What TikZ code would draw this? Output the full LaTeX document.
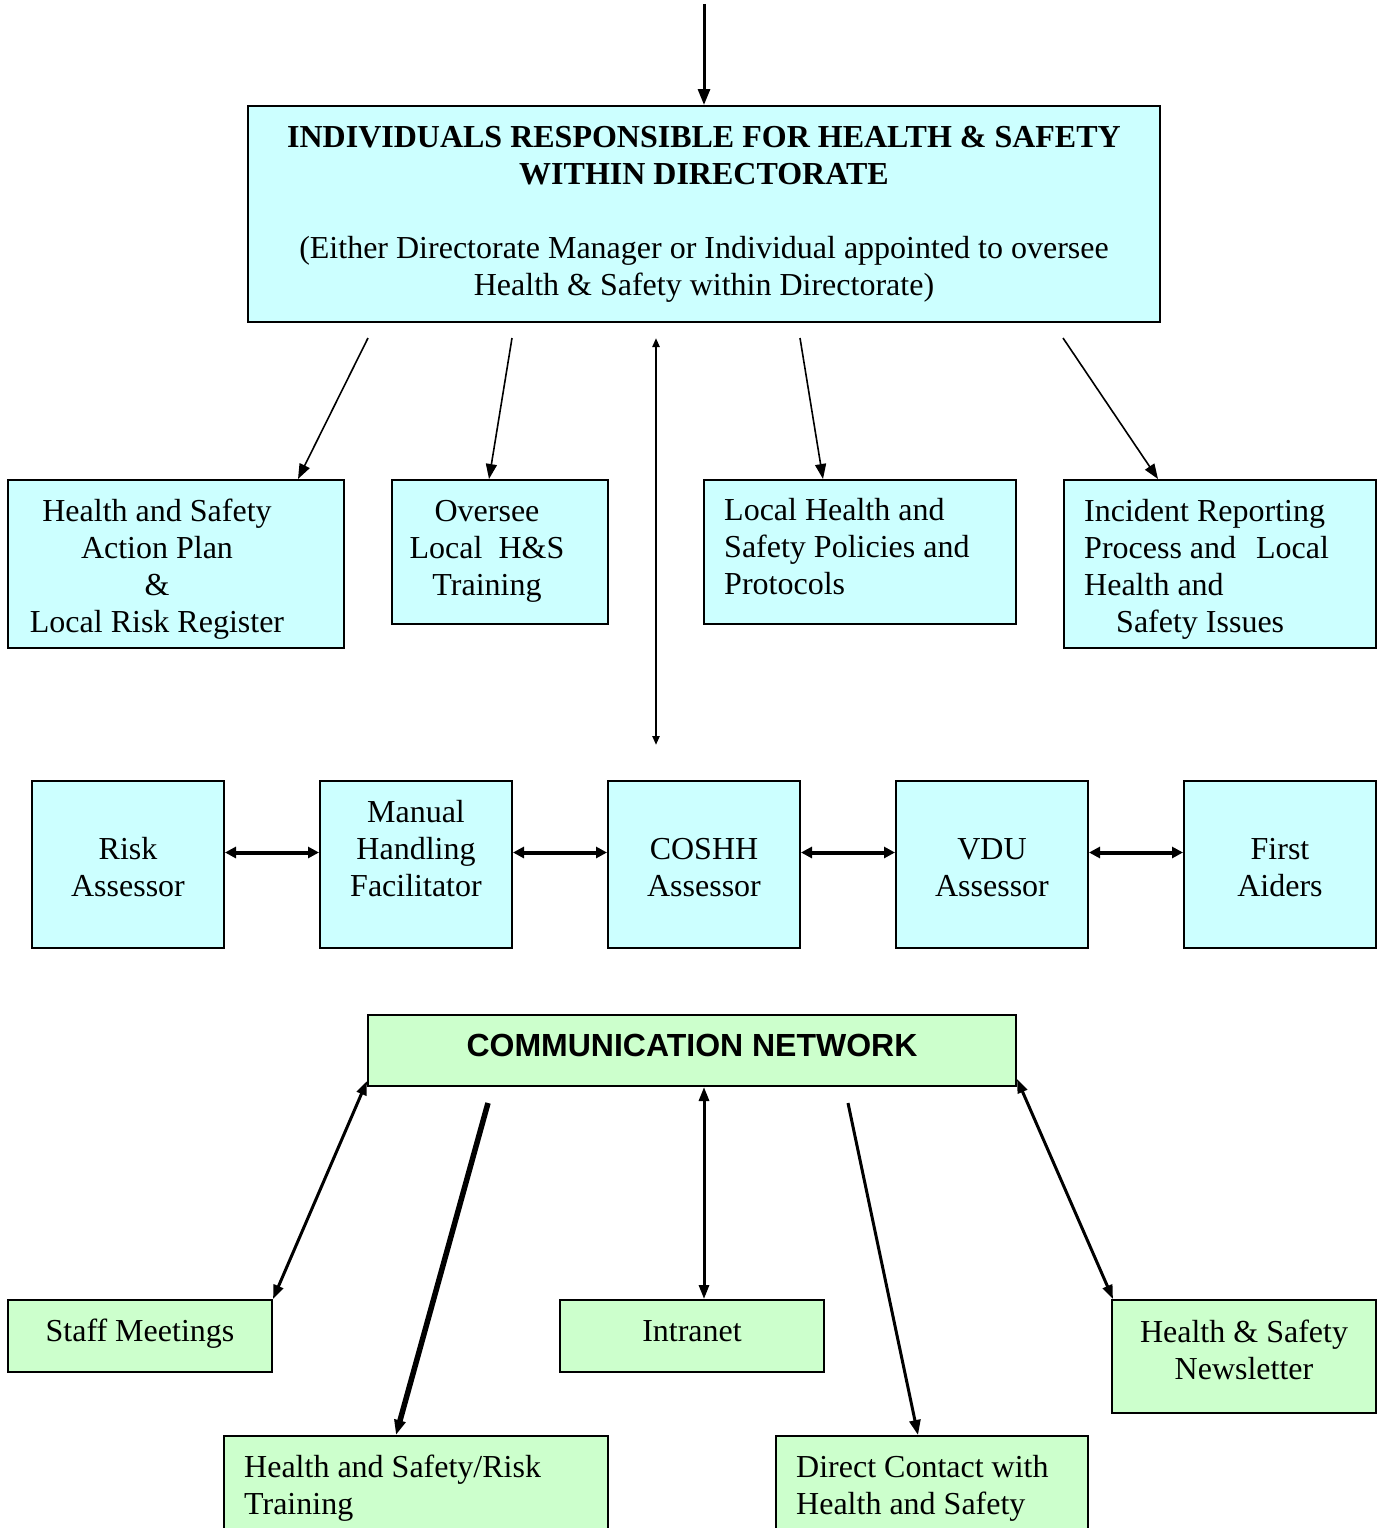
\documentclass[tikz,border=0pt]{standalone}
\usepackage{fontspec}
\setmainfont{Liberation Serif}
\setsansfont{Liberation Sans}
\usetikzlibrary{positioning,arrows.meta,calc}
\definecolor{pale}{HTML}{CCFFFF}
\definecolor{mint}{HTML}{CCFFCC}
\tikzset{
  role/.style={draw,line width=2pt,fill=pale,inner sep=0pt},
  chan/.style={draw,line width=2pt,fill=mint,inner sep=0pt},
  lbl/.style={font=\fontsize{32}{37}\selectfont,inner sep=0pt},
  intoarr/.style={-{Triangle[length=16pt,width=12pt]},line width=3pt},
  dutyarr/.style={-{Triangle[length=15pt,width=11pt]},line width=1.6pt},
  spinearr/.style={{Triangle[length=9pt,width=7pt]}-{Triangle[length=9pt,width=7pt]},line width=2.2pt},
  pairarr/.style={{Triangle[length=11pt,width=11pt]}-{Triangle[length=11pt,width=11pt]},line width=4pt},
  chanarr/.style={{Triangle[length=14pt,width=10pt]}-{Triangle[length=14pt,width=10pt]},line width=3pt},
  sendarr/.style={-{Triangle[length=15pt,width=11pt]},line width=3pt},
}
\begin{document}
\begin{tikzpicture}[x=1pt,y=-1pt]
  \clip (0,0) rectangle (1377,1528);
  % top box
  \coordinate (in) at (704,4);
  \node[role,minimum width=912pt,minimum height=216pt] (top) at (704,214) {};
  \node[lbl,align=center] (toptxt) at (704,214) {\textbf{INDIVIDUALS RESPONSIBLE FOR HEALTH \& SAFETY}\\
    \textbf{WITHIN DIRECTORATE}\\[37pt]
    (Either Directorate Manager or Individual appointed to oversee\\
    Health \& Safety within Directorate)};
  \draw[intoarr] (in) -- (top.north);
  % duties row
  \node[role,minimum width=336pt,minimum height=168pt] (plan) at (176,564) {};
  \node[lbl,align=center] (plantxt) at (157,569) {Health and Safety\\Action Plan\\\&\\Local Risk Register};
  \node[role,minimum width=216pt,minimum height=144pt] (train) at (500,552) {};
  \node[lbl,align=center] (traintxt) at (487,551) {Oversee\\Local\ \ H\&S\\Training};
  \node[role,minimum width=312pt,minimum height=144pt] (policy) at (860,552) {};
  \node[lbl,align=left,anchor=west] (policytxt) at (724,547) {Local Health and\\Safety Policies and\\Protocols};
  \node[role,minimum width=312pt,minimum height=168pt] (incident) at (1220,564) {};
  \node[lbl,align=left,anchor=west] (incidenttxt) at (1084,569) {Incident Reporting\\Process and\hspace{20pt}Local\\Health and\\\hspace*{32pt}Safety Issues};
  \coordinate (d1) at (368,338);
  \coordinate (d2) at (512,338);
  \coordinate (d3) at (800,338);
  \coordinate (d4) at (1063,338);
  \draw[dutyarr] (d1) -- ([xshift=122pt]plan.north);
  \draw[dutyarr] (d2) -- ([xshift=-11pt]train.north);
  \draw[dutyarr] (d3) -- ([xshift=-37pt]policy.north);
  \draw[dutyarr] (d4) -- ([xshift=-62pt]incident.north);
  \coordinate (v1) at (656,338);
  \coordinate (v2) at (656,745);
  \draw[spinearr] (v1) -- (v2);
  % specialist row
  \node[role,minimum width=192pt,minimum height=167pt] (risk) at (128,864.5) {};
  \node[role,minimum width=192pt,minimum height=167pt] (manual) at (416,864.5) {};
  \node[role,minimum width=192pt,minimum height=167pt] (coshh) at (704,864.5) {};
  \node[role,minimum width=192pt,minimum height=167pt] (vdu) at (992,864.5) {};
  \node[role,minimum width=192pt,minimum height=167pt] (aiders) at (1280,864.5) {};
  \node[lbl,align=center] (risktxt) at ([yshift=-3pt]risk.center) {Risk\\Assessor};
  \node[lbl,align=center] (manualtxt) at ([yshift=16pt]manual.center) {Manual\\Handling\\Facilitator};
  \node[lbl,align=center] (coshhtxt) at ([yshift=-3pt]coshh.center) {COSHH\\Assessor};
  \node[lbl,align=center] (vdutxt) at ([yshift=-3pt]vdu.center) {VDU\\Assessor};
  \node[lbl,align=center] (aiderstxt) at ([yshift=-3pt]aiders.center) {First\\Aiders};
  \foreach \a/\b in {risk/manual,manual/coshh,coshh/vdu,vdu/aiders}
    \draw[pairarr] ([yshift=12pt]\a.east) -- ([yshift=12pt]\b.west);
  % communication network
  \node[chan,minimum width=648pt,minimum height=71pt,text depth=10pt,font=\sffamily\bfseries\fontsize{32}{37}\selectfont] (comm) at (692,1050.5) {COMMUNICATION NETWORK};
  \node[chan,minimum width=264pt,minimum height=72pt] (staff) at (140,1336) {};
  \node[lbl] (stafftxt) at (140,1334) {Staff Meetings};
  \node[chan,minimum width=264pt,minimum height=72pt] (intranet) at (692,1336) {};
  \node[lbl] (intranettxt) at (692,1331) {Intranet};
  \node[chan,minimum width=264pt,minimum height=113pt] (news) at (1244,1356.5) {};
  \node[lbl,align=center] (newstxt) at (1244,1350) {Health \& Safety\\Newsletter};
  \node[chan,minimum width=384pt,minimum height=120pt] (hstrain) at (416,1496) {};
  \node[lbl,align=left,anchor=west] (hstraintxt) at (244,1488.5) {Health and Safety/Risk\\Training};
  \node[chan,minimum width=312pt,minimum height=120pt] (direct) at (932,1496) {};
  \node[lbl,align=left,anchor=west] (directtxt) at (796,1488.5) {Direct Contact with\\Health and Safety};
  \coordinate (c1) at (488,1103);
  \coordinate (c2) at (848,1103);
  \draw[chanarr] ([yshift=6pt]comm.south west) -- (staff.north east);
  \draw[sendarr,line width=5.5pt] (c1) -- ([xshift=-20pt]hstrain.north);
  \draw[chanarr] ([xshift=12pt]comm.south) -- ([xshift=12pt]intranet.north);
  \draw[sendarr] (c2) -- ([xshift=-14pt]direct.north);
  \draw[chanarr] ([yshift=8pt]comm.south east) -- ([xshift=2pt]news.north west);
\end{tikzpicture}
\end{document}
